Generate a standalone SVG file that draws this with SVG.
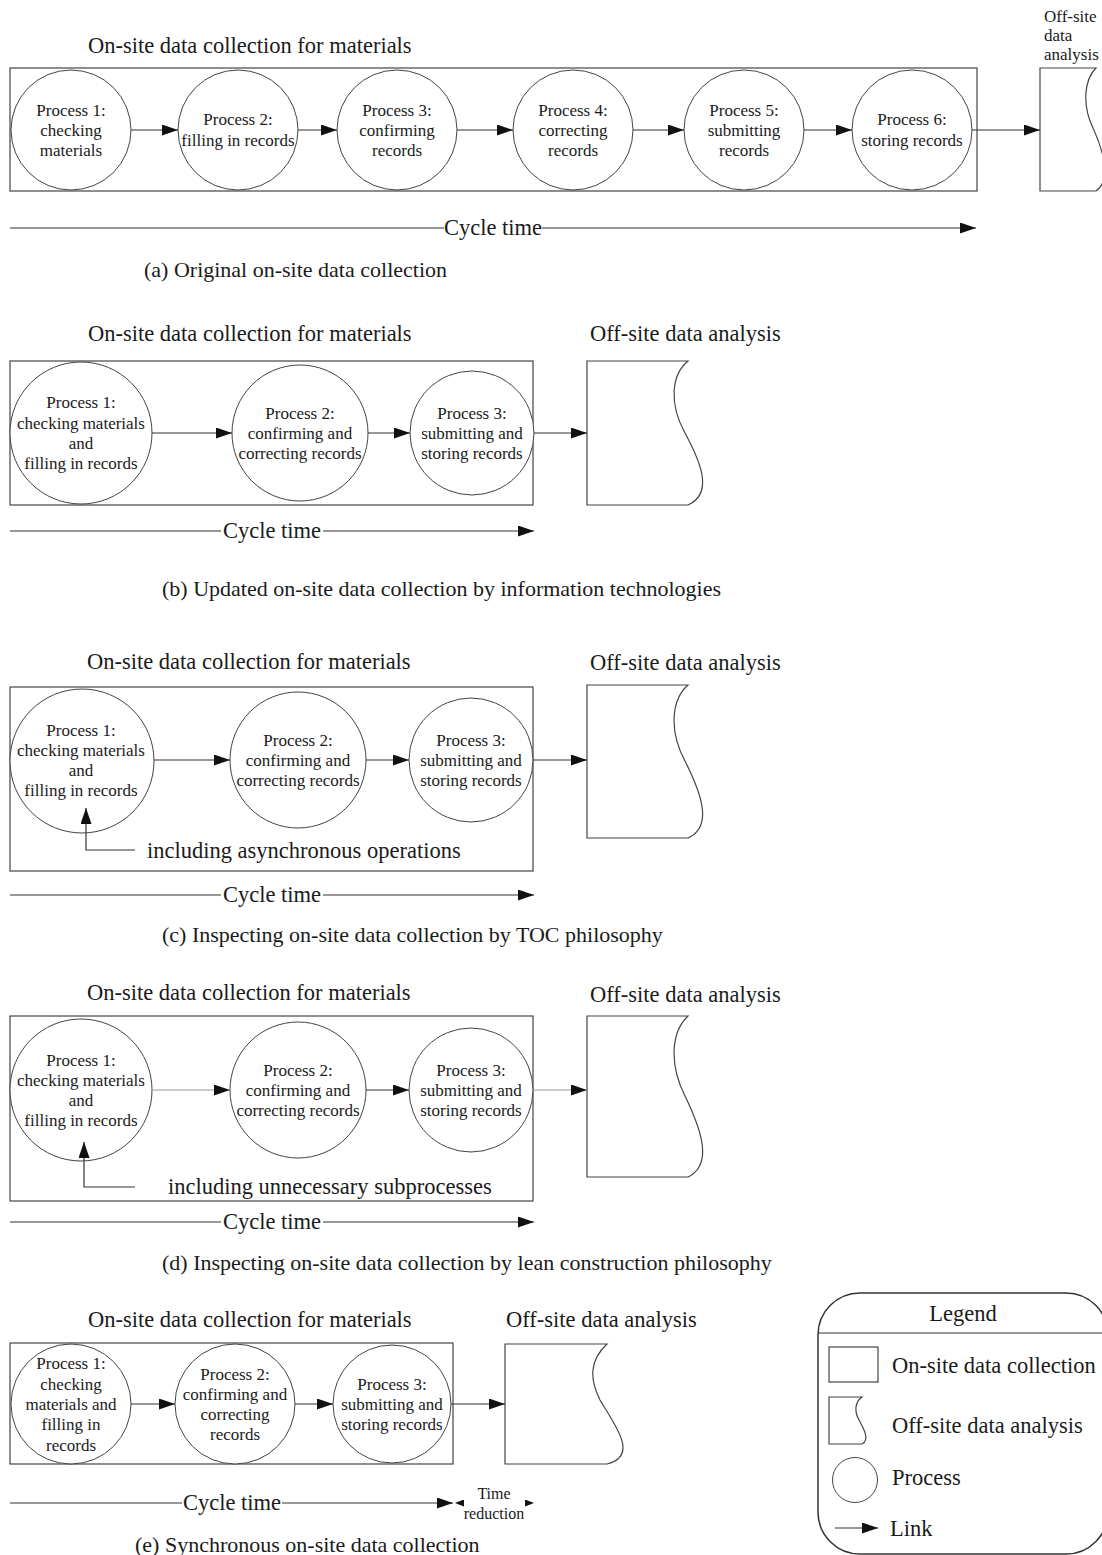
<svg xmlns="http://www.w3.org/2000/svg" width="1102" height="1555" viewBox="0 0 1102 1555">
<style>
text{font-family:"Liberation Serif","Times New Roman",serif;fill:#1a1a1a}
.h{font-size:22.5px}
.cap{font-size:22px}
.p{font-size:17px;text-anchor:middle}
.s{font-size:16px}
.box{fill:none;stroke:#444;stroke-width:1.2}
.circ{fill:#fff;stroke:#444;stroke-width:1}
.doc{fill:#fff;stroke:#444;stroke-width:1.2}
.ln{fill:none;stroke:#333;stroke-width:1.2}
.lg{fill:none;stroke:#999;stroke-width:1.2}
.arr{marker-end:url(#ah)}
.sm{marker-end:url(#as)}
</style>
<defs>
<marker id="ah" markerUnits="userSpaceOnUse" markerWidth="16" markerHeight="11" refX="16" refY="5.5" orient="auto"><path d="M0,0 L16,5.5 L0,11 Z" fill="#111"/></marker>
<marker id="as" markerUnits="userSpaceOnUse" markerWidth="9" markerHeight="7" refX="9" refY="3.5" orient="auto"><path d="M0,0 L9,3.5 L0,7 Z" fill="#111"/></marker>
</defs>

<!-- ===== (a) ===== -->
<g id="section-a">
<text class="h" x="88" y="53">On-site data collection for materials</text>
<g id="a-onsite"><rect class="box" x="10" y="68" width="967" height="123"/></g>
<g id="a-p1"><circle class="circ" cx="71" cy="130" r="60"/><text class="p" x="71" y="116">Process 1:</text><text class="p" x="71" y="136">checking</text><text class="p" x="71" y="156">materials</text></g>
<g id="a-p2"><circle class="circ" cx="238" cy="130" r="60"/><text class="p" x="238" y="125">Process 2:</text><text class="p" x="238" y="146">filling in records</text></g>
<g id="a-p3"><circle class="circ" cx="397" cy="130" r="60"/><text class="p" x="397" y="116">Process 3:</text><text class="p" x="397" y="136">confirming</text><text class="p" x="397" y="156">records</text></g>
<g id="a-p4"><circle class="circ" cx="573" cy="130" r="60"/><text class="p" x="573" y="116">Process 4:</text><text class="p" x="573" y="136">correcting</text><text class="p" x="573" y="156">records</text></g>
<g id="a-p5"><circle class="circ" cx="744" cy="130" r="60"/><text class="p" x="744" y="116">Process 5:</text><text class="p" x="744" y="136">submitting</text><text class="p" x="744" y="156">records</text></g>
<g id="a-p6"><circle class="circ" cx="912" cy="130" r="60"/><text class="p" x="912" y="125">Process 6:</text><text class="p" x="912" y="146">storing records</text></g>
<g id="a-offsite"><path class="doc" d="M1040,68 H1096 C1084,80 1082,105 1093,128 C1103,150 1112,180 1096,191 H1040 Z"/>
<text class="p" x="1044" y="22" style="text-anchor:start">Off-site</text><text class="p" x="1044" y="41" style="text-anchor:start">data</text><text class="p" x="1044" y="60" style="text-anchor:start">analysis</text></g>
<text class="h" x="493" y="235" text-anchor="middle">Cycle time</text>
<text class="cap" x="144" y="277">(a) Original on-site data collection</text>
</g>

<!-- ===== (b) ===== -->
<g id="section-b">
<text class="h" x="88" y="341">On-site data collection for materials</text>
<text class="h" x="590" y="341">Off-site data analysis</text>
<g id="b-onsite"><rect class="box" x="10" y="361" width="523" height="144"/></g>
<g id="b-p1"><circle class="circ" cx="81" cy="433" r="71"/><text class="p" x="81" y="408">Process 1:</text><text class="p" x="81" y="429">checking materials</text><text class="p" x="81" y="449">and</text><text class="p" x="81" y="469">filling in records</text></g>
<g id="b-p2"><circle class="circ" cx="300" cy="433" r="68"/><text class="p" x="300" y="419">Process 2:</text><text class="p" x="300" y="439">confirming and</text><text class="p" x="300" y="459">correcting records</text></g>
<g id="b-p3"><circle class="circ" cx="472" cy="433" r="62"/><text class="p" x="472" y="419">Process 3:</text><text class="p" x="472" y="439">submitting and</text><text class="p" x="472" y="459">storing records</text></g>
<g id="b-offsite"><path class="doc" d="M587,361 H688 C671,375 669,404 685,433 C699,459 715,493 688,505 H587 Z"/></g>
<text class="h" x="272" y="538" text-anchor="middle">Cycle time</text>
<text class="cap" x="162" y="596">(b) Updated on-site data collection by information technologies</text>
</g>

<!-- ===== (c) ===== -->
<g id="section-c">
<text class="h" x="87" y="669">On-site data collection for materials</text>
<text class="h" x="590" y="670">Off-site data analysis</text>
<g id="c-onsite"><rect class="box" x="10" y="687" width="523" height="184"/></g>
<g id="c-p1"><circle class="circ" cx="82" cy="761" r="72"/><text class="p" x="81" y="736">Process 1:</text><text class="p" x="81" y="756">checking materials</text><text class="p" x="81" y="776">and</text><text class="p" x="81" y="796">filling in records</text></g>
<g id="c-p2"><circle class="circ" cx="298" cy="760" r="68"/><text class="p" x="298" y="746">Process 2:</text><text class="p" x="298" y="766">confirming and</text><text class="p" x="298" y="786">correcting records</text></g>
<g id="c-p3"><circle class="circ" cx="471" cy="760" r="62"/><text class="p" x="471" y="746">Process 3:</text><text class="p" x="471" y="766">submitting and</text><text class="p" x="471" y="786">storing records</text></g>
<g id="c-offsite"><path class="doc" d="M587,685 H688 C671,700 669,731 685,761 C699,789 715,826 688,838 H587 Z"/></g>
<g id="c-note"><text class="h" x="147" y="858">including asynchronous operations</text></g>
<text class="h" x="272" y="902" text-anchor="middle">Cycle time</text>
<text class="cap" x="162" y="942">(c) Inspecting on-site data collection by TOC philosophy</text>
</g>

<!-- ===== (d) ===== -->
<g id="section-d">
<text class="h" x="87" y="1000">On-site data collection for materials</text>
<text class="h" x="590" y="1002">Off-site data analysis</text>
<g id="d-onsite"><rect class="box" x="10" y="1016" width="523" height="185"/></g>
<g id="d-p1"><circle class="circ" cx="81" cy="1090" r="71"/><text class="p" x="81" y="1066">Process 1:</text><text class="p" x="81" y="1086">checking materials</text><text class="p" x="81" y="1106">and</text><text class="p" x="81" y="1126">filling in records</text></g>
<g id="d-p2"><circle class="circ" cx="298" cy="1090" r="68"/><text class="p" x="298" y="1076">Process 2:</text><text class="p" x="298" y="1096">confirming and</text><text class="p" x="298" y="1116">correcting records</text></g>
<g id="d-p3"><circle class="circ" cx="471" cy="1090" r="62"/><text class="p" x="471" y="1076">Process 3:</text><text class="p" x="471" y="1096">submitting and</text><text class="p" x="471" y="1116">storing records</text></g>
<g id="d-offsite"><path class="doc" d="M587,1016 H688 C671,1032 669,1064 685,1096 C699,1125 715,1164 688,1177 H587 Z"/></g>
<g id="d-note"><text class="h" x="168" y="1194">including unnecessary subprocesses</text></g>
<text class="h" x="272" y="1229" text-anchor="middle">Cycle time</text>
<text class="cap" x="162" y="1270">(d) Inspecting on-site data collection by lean construction philosophy</text>
</g>

<!-- ===== (e) ===== -->
<g id="section-e">
<text class="h" x="88" y="1327">On-site data collection for materials</text>
<text class="h" x="506" y="1327">Off-site data analysis</text>
<g id="e-onsite"><rect class="box" x="10" y="1343" width="443" height="121"/></g>
<g id="e-p1"><circle class="circ" cx="71" cy="1404" r="60"/><text class="p" x="71" y="1369">Process 1:</text><text class="p" x="71" y="1390">checking</text><text class="p" x="71" y="1410">materials and</text><text class="p" x="71" y="1430">filling in</text><text class="p" x="71" y="1451">records</text></g>
<g id="e-p2"><circle class="circ" cx="235" cy="1404" r="60"/><text class="p" x="235" y="1380">Process 2:</text><text class="p" x="235" y="1400">confirming and</text><text class="p" x="235" y="1420">correcting</text><text class="p" x="235" y="1440">records</text></g>
<g id="e-p3"><circle class="circ" cx="392" cy="1404" r="59"/><text class="p" x="392" y="1390">Process 3:</text><text class="p" x="392" y="1410">submitting and</text><text class="p" x="392" y="1430">storing records</text></g>
<g id="e-offsite"><path class="doc" d="M505,1344 H607 C590,1360 589,1378 600,1400 C614,1424 640,1456 607,1464 H505 Z"/></g>
<text class="h" x="232" y="1510" text-anchor="middle">Cycle time</text>
<text class="s" x="494" y="1499" text-anchor="middle">Time</text>
<text class="s" x="494" y="1519" text-anchor="middle">reduction</text>
<text class="cap" x="135" y="1552">(e) Synchronous on-site data collection</text>
</g>

<!-- ===== Legend ===== -->
<g id="legend">
<rect x="818" y="1293" width="290" height="261" rx="42" ry="42" fill="none" stroke="#333" stroke-width="1.5"/>
<line x1="818" y1="1333" x2="1102" y2="1333" stroke="#333" stroke-width="1.2"/>
<text class="h" x="963" y="1321" text-anchor="middle">Legend</text>
<rect class="box" x="829" y="1347" width="49" height="35"/>
<text class="h" x="892" y="1373">On-site data collection</text>
<path class="doc" d="M829,1397 H862 C855,1402 854,1411 859,1420 C864,1429 870,1440 862,1444 H829 Z"/>
<text class="h" x="892" y="1433">Off-site data analysis</text>
<circle class="circ" cx="855" cy="1480" r="22.5"/>
<text class="h" x="892" y="1485">Process</text>
<line class="ln arr" x1="835" y1="1528" x2="878" y2="1528"/>
<text class="h" x="890" y="1536">Link</text>
</g>

<!-- ===== Connectors ===== -->
<g id="connectors">
<!-- (a) -->
<line class="ln arr" x1="131" y1="130" x2="178" y2="130"/>
<line class="ln arr" x1="298" y1="130" x2="337" y2="130"/>
<line class="ln arr" x1="457" y1="130" x2="513" y2="130"/>
<line class="ln arr" x1="633" y1="130" x2="684" y2="130"/>
<line class="ln arr" x1="804" y1="130" x2="852" y2="130"/>
<line class="ln arr" x1="972" y1="130" x2="1040" y2="130"/>
<line class="ln" x1="10" y1="228" x2="444" y2="228"/>
<line class="ln arr" x1="542" y1="228" x2="976" y2="228"/>
<!-- (b) -->
<line class="ln arr" x1="152" y1="433" x2="232" y2="433"/>
<line class="ln arr" x1="368" y1="433" x2="410" y2="433"/>
<line class="ln arr" x1="534" y1="433" x2="587" y2="433"/>
<line class="ln" x1="10" y1="531" x2="221" y2="531"/>
<line class="ln arr" x1="323" y1="531" x2="534" y2="531"/>
<!-- (c) -->
<line class="ln arr" x1="154" y1="760" x2="230" y2="760"/>
<line class="ln arr" x1="366" y1="760" x2="409" y2="760"/>
<line class="ln arr" x1="533" y1="760" x2="587" y2="760"/>
<polyline class="ln arr" points="135,850 86,850 86,808"/>
<line class="ln" x1="10" y1="895" x2="221" y2="895"/>
<line class="ln arr" x1="323" y1="895" x2="534" y2="895"/>
<!-- (d) -->
<line class="lg arr" x1="152" y1="1090" x2="230" y2="1090"/>
<line class="ln arr" x1="366" y1="1090" x2="409" y2="1090"/>
<line class="lg arr" x1="533" y1="1090" x2="587" y2="1090"/>
<polyline class="ln arr" points="135,1187 84,1187 84,1142"/>
<line class="ln" x1="10" y1="1222" x2="221" y2="1222"/>
<line class="ln arr" x1="323" y1="1222" x2="534" y2="1222"/>
<!-- (e) -->
<line class="ln arr" x1="131" y1="1404" x2="175" y2="1404"/>
<line class="ln arr" x1="295" y1="1404" x2="333" y2="1404"/>
<line class="ln arr" x1="451" y1="1404" x2="505" y2="1404"/>
<line class="ln" x1="10" y1="1503" x2="182" y2="1503"/>
<line class="ln arr" x1="282" y1="1503" x2="453" y2="1503"/>
<line class="ln sm" x1="462" y1="1503" x2="455" y2="1503" style="stroke:none"/>
<line class="ln sm" x1="525" y1="1503" x2="534" y2="1503" style="stroke:none"/>
</g>
</svg>
